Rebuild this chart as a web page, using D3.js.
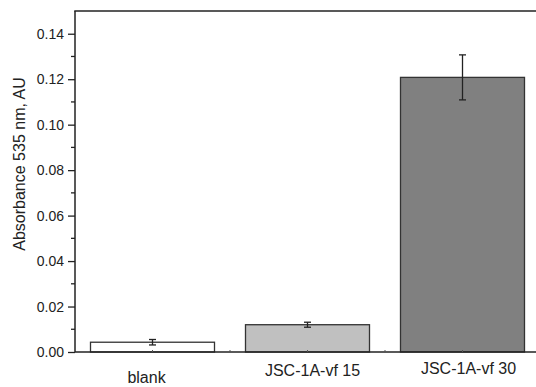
<!DOCTYPE html>
<html><head><meta charset="utf-8">
<script src="https://cdn.jsdelivr.net/npm/d3@7"></script>
<style>body{margin:0;background:#fff}svg{display:block}text{font-family:Arial,"Liberation Sans",sans-serif;fill:#222}</style>
</head><body>
<script>
const categories = ["blank", "JSC-1A-vf 15", "JSC-1A-vf 30"];
const values = [0.0043, 0.0120, 0.1208];
const errors = [0.0012, 0.0011, 0.0099];
const barColors = ["#ffffff", "#c0c0c0", "#808080"];
const yTicks = [0, 0.02, 0.04, 0.06, 0.08, 0.10, 0.12, 0.14];
const yMinorTicks = [0.01, 0.03, 0.05, 0.07, 0.09, 0.11, 0.13];

const W = 536, H = 387;
const m = {left: 75, top: 11, right: -4, bottom: 35};
const svg = d3.select("body").append("svg").attr("width", W).attr("height", H);

const x = d3.scaleBand().domain(categories).range([m.left, W - m.right]).paddingInner(0.2).paddingOuter(0.1);
const y = d3.scaleLinear().domain([0, 0.15]).range([H - m.bottom, m.top]);
const xs = d3.scaleBand().domain(categories).range([m.left, W - m.right]);

// bars
svg.selectAll("rect.bar").data(categories).join("rect")
  .attr("x", d => x(d)).attr("width", x.bandwidth())
  .attr("y", (d, i) => y(values[i])).attr("height", (d, i) => y(0) - y(values[i]))
  .attr("fill", (d, i) => barColors[i]).attr("stroke", "#333").attr("stroke-width", 1.3);

// error bars
const eb = svg.selectAll("g.eb").data(categories).join("g").attr("stroke", "#222").attr("stroke-width", 1.3);
eb.append("line").attr("x1", d => x(d) + x.bandwidth()/2).attr("x2", d => x(d) + x.bandwidth()/2)
  .attr("y1", (d, i) => y(values[i] + errors[i])).attr("y2", (d, i) => y(values[i] - errors[i]));
eb.append("line").attr("x1", d => x(d) + x.bandwidth()/2 - 3.5).attr("x2", d => x(d) + x.bandwidth()/2 + 3.5)
  .attr("y1", (d, i) => y(values[i] + errors[i])).attr("y2", (d, i) => y(values[i] + errors[i]));
eb.append("line").attr("x1", d => x(d) + x.bandwidth()/2 - 3.5).attr("x2", d => x(d) + x.bandwidth()/2 + 3.5)
  .attr("y1", (d, i) => y(values[i] - errors[i])).attr("y2", (d, i) => y(values[i] - errors[i]));

// y axis
const ya = svg.append("g").attr("transform", `translate(${m.left},0)`)
  .call(d3.axisLeft(y).tickValues(yTicks).tickFormat(d3.format(".2f")).tickSize(7).tickPadding(4));
ya.select(".domain").remove();
ya.selectAll("line").attr("stroke", "#222").attr("stroke-width", 1.3);
ya.selectAll("text").attr("font-size", 14).attr("fill", "#222").attr("font-family", "Arial, 'Liberation Sans', sans-serif");
svg.append("g").selectAll("line").data(yMinorTicks).join("line")
  .attr("x1", m.left - 4).attr("x2", m.left).attr("y1", d => y(d)).attr("y2", d => y(d))
  .attr("stroke", "#222").attr("stroke-width", 1.3);

// frame lines
svg.append("line").attr("x1", m.left).attr("x2", m.left).attr("y1", y(0.15)).attr("y2", y(0)).attr("stroke", "#222").attr("stroke-width", 1.5);
svg.append("line").attr("x1", m.left).attr("x2", W).attr("y1", y(0)).attr("y2", y(0)).attr("stroke", "#222").attr("stroke-width", 1.5);
svg.append("line").attr("x1", m.left - 0.75).attr("x2", W).attr("y1", y(0.15)).attr("y2", y(0.15)).attr("stroke", "#222").attr("stroke-width", 1.5);

// small bottom ticks (centers and boundaries)
const bt = [];
categories.forEach(c => { bt.push(xs(c) + xs.bandwidth()/2); bt.push(xs(c) + xs.bandwidth()); });
svg.append("g").selectAll("line").data(bt.filter(v => v < W)).join("line")
  .attr("x1", d => d).attr("x2", d => d).attr("y1", y(0)).attr("y2", y(0) - 2)
  .attr("stroke", "#555").attr("stroke-width", 1);

// x labels (staggered as in the original)
const lblDx = [-6, 5, 6];
const lblY = [383, 376, 374];
svg.append("g").selectAll("text").data(categories).join("text")
  .attr("x", (d, i) => x(d) + x.bandwidth()/2 + lblDx[i]).attr("y", (d, i) => lblY[i])
  .attr("text-anchor", "middle").attr("font-size", 16).text(d => d);

// y title
svg.append("text").attr("transform", `translate(25,164) rotate(-90)`).attr("text-anchor", "middle")
  .attr("font-size", 16).text("Absorbance 535 nm, AU");
</script>
</body></html>
